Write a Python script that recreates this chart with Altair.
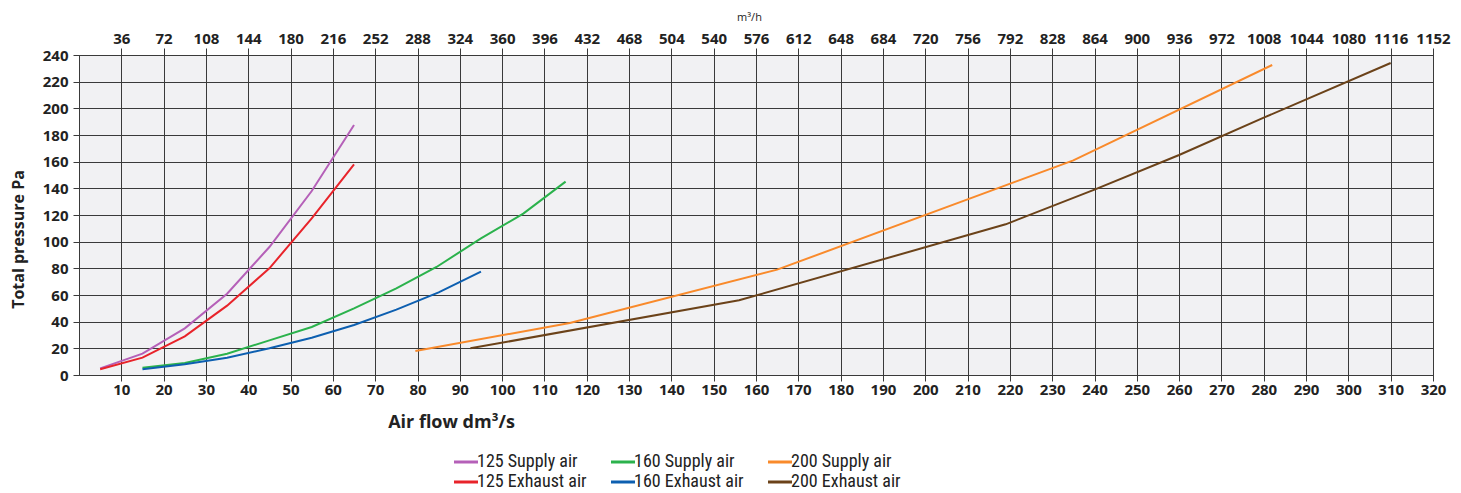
import altair as alt
import pandas as pd

# ---- data (x = air flow dm3/s, y = total pressure Pa) ----
s125_supply_x = [5, 15, 25, 35, 45, 55, 65]
s125_supply_y = [5, 16, 35, 61, 96, 138, 187.5]
s125_exhaust_x = [5, 15, 25, 35, 45, 55, 65]
s125_exhaust_y = [4.25, 13, 29, 52, 80, 117.5, 158]
s160_supply_x = [15, 25, 35, 45, 55, 65, 75, 84.5, 95, 105, 115]
s160_supply_y = [5.5, 9, 16, 26, 36, 50, 65, 81, 102.5, 121, 145]
s160_exhaust_x = [15, 25, 35, 45, 55, 65, 75, 85, 95]
s160_exhaust_y = [4.25, 8, 13, 20, 28, 37.5, 49, 62, 77.5]
s200_supply_x = [79.5, 116, 165, 235, 282]
s200_supply_y = [18, 39, 79, 161, 232.5]
s200_exhaust_x = [92.5, 156, 219, 240, 260, 280, 310]
s200_exhaust_y = [20, 56, 113, 139, 165, 193, 234]

# legend is laid out column by column: (125 sup, 125 exh), (160 sup, 160 exh), (200 sup, 200 exh)
legend_order = ["125 Supply air", "125 Exhaust air", "160 Supply air",
                "160 Exhaust air", "200 Supply air", "200 Exhaust air"]
legend_colors = ["#b560b8", "#e8232a", "#2bb24c", "#0d5fb0", "#f98a2b", "#6b4219"]

bottom_ticks = [10, 20, 30, 40, 50, 60, 70, 80, 90, 100, 110, 120, 130, 140, 150, 160,
                170, 180, 190, 200, 210, 220, 230, 240, 250, 260, 270, 280, 290, 300, 310, 320]
top_ticks_m3h = [36, 72, 108, 144, 180, 216, 252, 288, 324, 360, 396, 432, 468, 504, 540, 576,
                 612, 648, 684, 720, 756, 792, 828, 864, 900, 936, 972, 1008, 1044, 1080, 1116, 1152]
y_ticks = [0, 20, 40, 60, 80, 100, 120, 140, 160, 180, 200, 220, 240]

series = [
    ("125 Supply air", s125_supply_x, s125_supply_y),
    ("125 Exhaust air", s125_exhaust_x, s125_exhaust_y),
    ("160 Supply air", s160_supply_x, s160_supply_y),
    ("160 Exhaust air", s160_exhaust_x, s160_exhaust_y),
    ("200 Supply air", s200_supply_x, s200_supply_y),
    ("200 Exhaust air", s200_exhaust_x, s200_exhaust_y),
]
rows = []
for name, xs, ys in series:
    for xv, yv in zip(xs, ys):
        rows.append({"series": name, "flow": xv, "pressure": yv})
df = pd.DataFrame(rows)

FONT = "Open Sans"
LEGEND_FONT = "Roboto Condensed, DejaVu Sans Condensed, Roboto"
GRID = "#3a3a3a"

x_scale = alt.Scale(domain=[0, 320], nice=False, zero=True)
y_scale = alt.Scale(domain=[0, 240], nice=False)

y_enc = alt.Y("pressure:Q", scale=y_scale, axis=alt.Axis(
    values=y_ticks, grid=True, gridColor=GRID, gridWidth=1,
    domainColor=GRID, tickColor=GRID, tickSize=6, labelPadding=5,
    labelFont=FONT, labelFontSize=15, labelFontWeight="bold", labelColor="#222",
    labelFlush=False, labelOverlap=False,
    title="Total pressure Pa", titleFont=FONT, titleFontSize=16, titleFontWeight="bold",
    titleColor="#222", titleX=-61, titleY=184, titleAngle=270, titleAlign="center",
    titleBaseline="middle", titleAnchor="start"))

lines = alt.Chart(df).mark_line(strokeWidth=2).encode(
    x=alt.X("flow:Q", scale=x_scale, axis=alt.Axis(
        orient="bottom", values=bottom_ticks, grid=True, gridColor=GRID, gridWidth=1,
        domainColor=GRID, tickColor=GRID, tickSize=6, labelPadding=8, labelBaseline="middle",
        labelFont=FONT, labelFontSize=15, labelFontWeight="bold", labelColor="#222",
        labelFlush=False, labelOverlap=False,
        title="Air flow dm³/s", titleFont=FONT, titleFontSize=18, titleFontWeight="bold",
        titleColor="#222", titleX=372, titleY=47, titleAlign="center", titleBaseline="middle",
        titleAnchor="start")),
    y=y_enc,
    color=alt.Color("series:N", scale=alt.Scale(domain=legend_order, range=legend_colors),
                    legend=alt.Legend(
                        title=None, orient="none", legendX=372, legendY=398, columns=3,
                        symbolType="M-1,0L3,0", symbolSize=144, symbolStrokeWidth=3,
                        labelFont=LEGEND_FONT, labelFontSize=18, labelColor="#222",
                        labelOffset=8, columnPadding=18, rowPadding=2, padding=0)),
    detail="series:N",
)

top_axis = alt.Chart(df).mark_line(strokeOpacity=0).encode(
    x=alt.X("flow:Q", scale=x_scale, axis=alt.Axis(
        orient="top", values=[v / 3.6 for v in top_ticks_m3h], grid=False,
        domainColor=GRID, tickColor=GRID, tickSize=7, labelPadding=10, labelBaseline="middle",
        labelExpr="format(round(datum.value * 3.6), 'd')",
        labelFont=FONT, labelFontSize=15, labelFontWeight="bold", labelColor="#222",
        labelFlush=False, labelOverlap=False,
        title="m³/h", titleFont=FONT, titleFontSize=11, titleFontWeight="normal",
        titleColor="#222", titleX=670, titleY=-38, titleAlign="center", titleBaseline="middle",
        titleAnchor="start")),
    y=y_enc,
    detail="series:N",
)

chart = alt.layer(lines, top_axis).resolve_axis(x="independent").properties(
    width=1354, height=320,
    autosize=alt.AutoSizeParams(type="none"),
    padding={"left": 71, "top": 47, "right": 20, "bottom": 118},
    background="white",
).configure_view(fill="#f1f1f3", stroke=GRID, strokeWidth=1)

chart.save("out.html", embed_options={"renderer": "svg", "actions": False})
